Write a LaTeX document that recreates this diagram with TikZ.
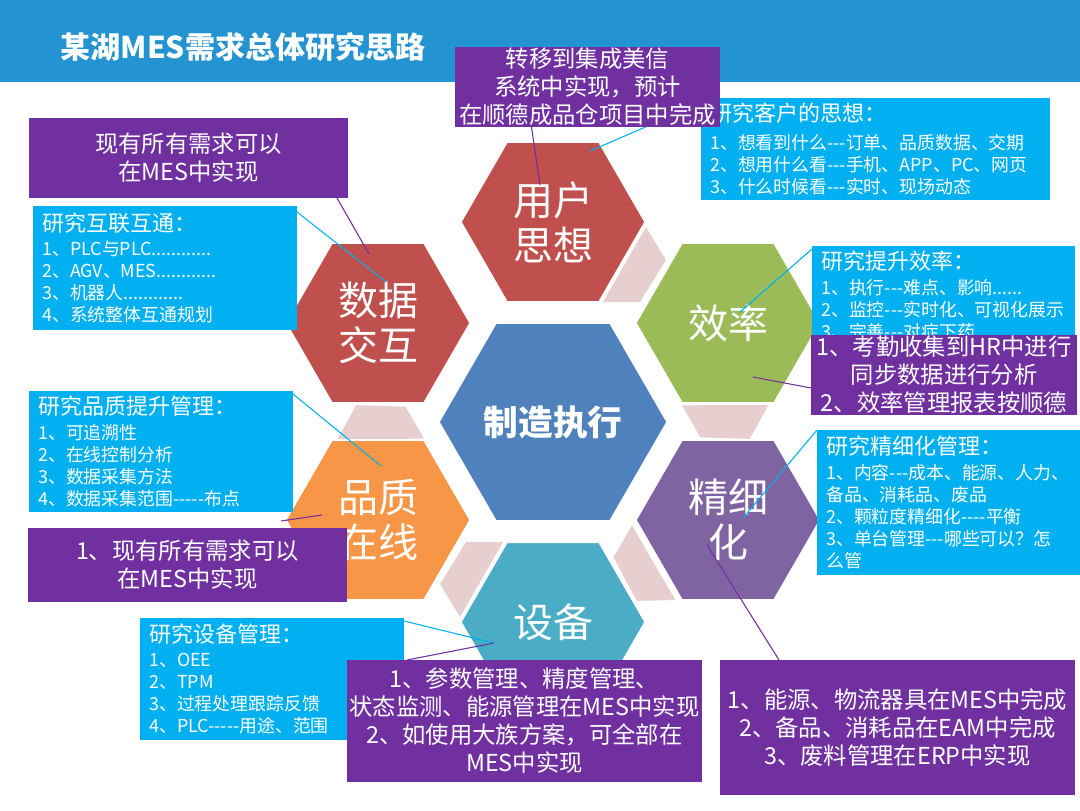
\documentclass[tikz,border=0pt]{standalone}
\usepackage{fontspec}
\setmainfont{Noto Sans CJK SC}[Ligatures=TeXOff]
\usetikzlibrary{shapes.geometric}
\definecolor{TitleBlue}{RGB}{36,147,210}
\definecolor{HexRed}{RGB}{192,80,77}
\definecolor{HexBlue}{RGB}{79,129,189}
\definecolor{HexGreen}{RGB}{155,187,89}
\definecolor{HexPurple}{RGB}{128,100,162}
\definecolor{HexTeal}{RGB}{75,172,198}
\definecolor{HexOrange}{RGB}{247,150,70}
\definecolor{HexPink}{RGB}{231,207,208}
\definecolor{BoxPurple}{RGB}{112,48,160}
\definecolor{BoxCyan}{RGB}{0,176,240}
\newcommand{\notetitle}[1]{{\fontsize{16.5}{20}\selectfont #1}}
\tikzset{
  hexcell/.style={regular polygon,regular polygon sides=6,minimum size=138pt,
                  inner sep=0pt,outer sep=0pt,draw=white,line width=1pt,
                  text=white,align=center,font=\fontsize{30}{34}\selectfont},
  memobox/.style={fill=BoxPurple,text=white,inner sep=0pt,outer sep=0pt,
                  align=center,font=\fontsize{17.5}{21}\selectfont},
  notebox/.style={fill=BoxCyan,text=white,inner xsep=7pt,inner ysep=0pt,outer sep=0pt,
                  align=left,font=\fontsize{13.4}{16.5}\selectfont},
  memoline/.style={draw=BoxPurple,line width=0.8pt},
  noteline/.style={draw=BoxCyan,line width=0.8pt}
}
\begin{document}
\begin{tikzpicture}[x=0.75pt,y=-0.75pt]
        \useasboundingbox (0,0) rectangle (1080,810);
        \fill[TitleBlue] (0,0) rectangle (1080,82);
        \node[anchor=west,text=white,font=\bfseries\fontsize{22.5}{26}\selectfont]
              (title) at (56,47) {某湖MES需求总体研究思路};

        \node[hexcell,fill=HexBlue,minimum size=171pt,
              font=\bfseries\fontsize{26}{30}\selectfont] (core) at (553,422) {制造执行};
        \foreach \a in {0,-60,-120,180,120}
          \fill[HexPink,shift={(core.center)},rotate=\a]
                (50,-120) -- (93,-195) -- (113,-162) -- (87,-120) -- cycle;
        \node[hexcell,fill=HexRed] (user) at (553,222) {用户\\思想};
        \node[hexcell,fill=HexRed] (data) at (378,323) {数据\\交互};
        \node[hexcell,fill=HexGreen] (effi) at (728,323) {效率};
        \node[hexcell,fill=HexOrange] (qual) at (378,520) {品质\\在线};
        \node[hexcell,fill=HexPurple] (fine) at (728,520) {精细\\化};
        \node[hexcell,fill=HexTeal] (equip) at (553,622) {设备};

        \node[notebox,minimum width=261.75pt,minimum height=76.5pt,text width=247.75pt]
              (userNote) at (875.5,149) {\notetitle{研究客户的思想：}\\[5pt]
              1、想看到什么---订单、品质数据、交期\\
              2、想用什么看---手机、APP、PC、网页\\
              3、什么时候看---实时、现场动态};
        \node[notebox,minimum width=198pt,minimum height=93pt,text width=184pt]
              (dataNote) at (165,268) {\notetitle{研究互联互通：}\\[1pt]
              1、PLC与PLC............\\
              2、AGV、MES............\\
              3、机器人............\\
              4、系统整体互通规划};
        \node[notebox,minimum width=197.25pt,minimum height=74.25pt,text width=183.25pt]
              (effiNote) at (943.5,295.5) {\notetitle{研究提升效率：}\\[2pt]
              1、执行---难点、影响......\\
              2、监控---实时化、可视化展示\\
              3、完善---对症下药};
        \node[notebox,minimum width=198pt,minimum height=90.75pt,text width=184pt]
              (qualNote) at (161,451.5) {\notetitle{研究品质提升管理：}\\[2pt]
              1、可追溯性\\
              2、在线控制分析\\
              3、数据采集方法\\
              4、数据采集范围-----布点};
        \node[notebox,minimum width=197.25pt,minimum height=108.75pt,text width=183.25pt]
              (fineNote) at (948.5,502.5) {\notetitle{研究精细化管理：}\\[2pt]
              1、内容---成本、能源、人力、\\
              备品、消耗品、废品\\
              2、颗粒度精细化----平衡\\
              3、单台管理---哪些可以？怎\\
              么管};
        \node[notebox,minimum width=198pt,minimum height=91.5pt,text width=184pt]
              (equipNote) at (272,679) {\notetitle{研究设备管理：}\\[2pt]
              1、OEE\\
              2、TPM\\
              3、过程处理跟踪反馈\\
              4、PLC-----用途、范围};

        \draw[noteline] ([shift={(37,-71)}]user.center) -- ([shift={(0,5)}]userNote.north west);

        \node[memobox,minimum width=198.75pt,minimum height=60pt]
              (userMemo) at (587.5,87) {转移到集成美信\\系统中实现，预计\\在顺德成品仓项目中完成};
        \node[memobox,minimum width=239.25pt,minimum height=60pt]
              (dataMemo) at (188.5,158) {现有所有需求可以\\在MES中实现};
        \node[memobox,minimum width=199.5pt,minimum height=60pt]
              (effiMemo) at (944,375) {1、考勤收集到HR中进行\\同步数据进行分析\\2、效率管理报表按顺德};
        \node[memobox,minimum width=239.25pt,minimum height=55.5pt]
              (qualMemo) at (187.5,565) {1、现有所有需求可以\\在MES中实现};
        \node[memobox,minimum width=266.25pt,minimum height=91.5pt]
              (equipMemo) at (524.5,721) {1、参数管理、精度管理、\\状态监测、能源管理在MES中实现\\
              2、如使用大族方案，可全部在\\MES中实现};
        \node[memobox,minimum width=266.25pt,minimum height=101.25pt]
              (fineMemo) at (897.5,727.5) {1、能源、物流器具在MES中完成\\2、备品、消耗品在EAM中完成\\
              3、废料管理在ERP中实现};

        \draw[memoline] ([shift={(-56,0)}]userMemo.south) -- ([shift={(-13,-37)}]user.center);
        \draw[memoline] ([shift={(-11,0)}]dataMemo.south east) -- ([shift={(-9,-69)}]data.center);
        \draw[noteline] ([shift={(0,6)}]dataNote.north east) -- ([shift={(8,-41)}]data.center);
        \draw[noteline] ([shift={(0,3)}]effiNote.north west) -- ([shift={(12,-11)}]effi.center);
        \draw[memoline] ([shift={(0,13)}]effiMemo.west) -- ([shift={(25,54)}]effi.center);
        \draw[noteline] ([shift={(0,3)}]qualNote.north east) -- ([shift={(3,-54)}]qual.center);
        \draw[memoline] ([shift={(-66,-7)}]qualMemo.north east) -- ([shift={(-56,-5)}]qual.center);
        \draw[noteline] (fineNote.north west) -- ([shift={(15,-2)}]fine.center);
        \draw[memoline] ([shift={(-21,25)}]fine.center) -- ([shift={(59,0)}]fineMemo.north west);
        \draw[noteline] ([shift={(0,3)}]equipNote.north east) -- ([shift={(-59,21)}]equip.center);
        \draw[memoline] ([shift={(60,0)}]equipMemo.north west) -- ([shift={(-59,21)}]equip.center);
\end{tikzpicture}
\end{document}
